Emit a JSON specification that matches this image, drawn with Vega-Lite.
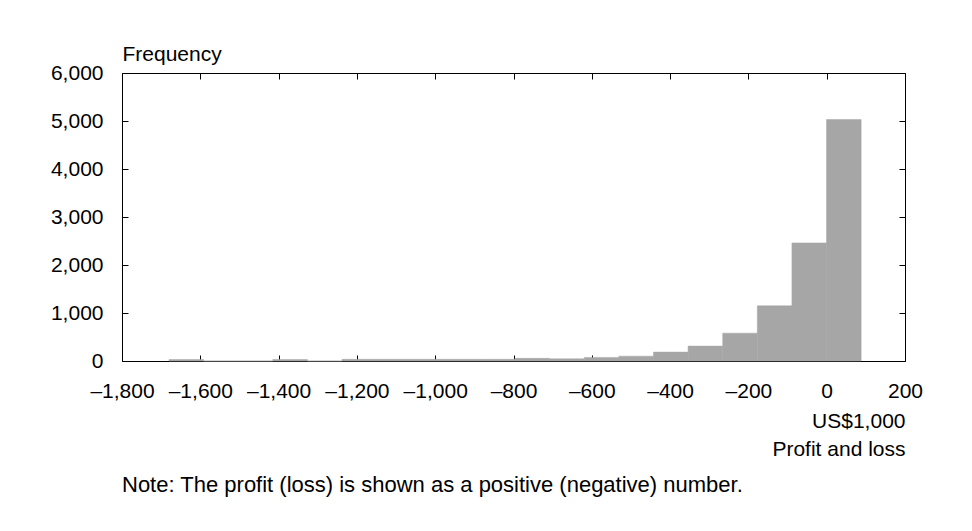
{
  "$schema": "https://vega.github.io/schema/vega-lite/v6.json",
  "width": 783,
  "height": 288,
  "autosize": {"type": "none"},
  "padding": {"left": 122, "top": 73, "right": 67, "bottom": 170},
  "background": "#ffffff",
  "title": {
    "text": "Note: The profit (loss) is shown as a positive (negative) number.",
    "orient": "bottom",
    "anchor": "start",
    "frame": "group",
    "offset": 16,
    "font": "Liberation Sans",
    "fontSize": 22,
    "fontWeight": "normal",
    "color": "#000000"
  },
  "data": {
    "values": [
      {"bin_start": -1680.0, "bin_end": -1591.6, "count": 30},
      {"bin_start": -1591.6, "bin_end": -1503.2, "count": 0},
      {"bin_start": -1503.2, "bin_end": -1414.8, "count": 0},
      {"bin_start": -1414.8, "bin_end": -1326.4, "count": 30},
      {"bin_start": -1326.4, "bin_end": -1238.0, "count": 0},
      {"bin_start": -1238.0, "bin_end": -1149.6, "count": 35},
      {"bin_start": -1149.6, "bin_end": -1061.2, "count": 35},
      {"bin_start": -1061.2, "bin_end": -972.8, "count": 35},
      {"bin_start": -972.8, "bin_end": -884.4, "count": 35},
      {"bin_start": -884.4, "bin_end": -796.0, "count": 35},
      {"bin_start": -796.0, "bin_end": -707.6, "count": 55},
      {"bin_start": -707.6, "bin_end": -619.2, "count": 45},
      {"bin_start": -619.2, "bin_end": -530.8, "count": 75},
      {"bin_start": -530.8, "bin_end": -442.4, "count": 100},
      {"bin_start": -442.4, "bin_end": -354.0, "count": 185},
      {"bin_start": -354.0, "bin_end": -265.6, "count": 310},
      {"bin_start": -265.6, "bin_end": -177.2, "count": 580},
      {"bin_start": -177.2, "bin_end": -88.8, "count": 1150},
      {"bin_start": -88.8, "bin_end": -0.4, "count": 2460},
      {"bin_start": -0.4, "bin_end": 88.0, "count": 5030}
    ]
  },
  "layer": [
    {
      "mark": {"type": "bar", "color": "#a6a6a6", "stroke": "#a6a6a6", "strokeWidth": 0.5},
      "encoding": {
        "x": {
          "field": "bin_start",
          "type": "quantitative",
          "scale": {"domain": [-1800, 200], "nice": false, "zero": false},
          "axis": {
            "orient": "bottom",
            "values": [-1800, -1600, -1400, -1200, -1000, -800, -600, -400, -200, 0, 200],
            "labelExpr": "datum.value < 0 ? '\u2013' + format(-datum.value, ',') : format(datum.value, ',')",
            "labelOverlap": false,
            "labelFlush": false,
            "title": ["US$1,000", "Profit and loss"],
            "titleAnchor": "end",
            "titleAlign": "right",
            "titleX": 783,
            "titleY": 66,
            "titleBaseline": "alphabetic",
            "titleLineHeight": 28,
            "grid": false,
            "domain": false,
            "tickSize": -6,
            "labelPadding": 25
          }
        },
        "x2": {"field": "bin_end"},
        "y": {
          "field": "count",
          "type": "quantitative",
          "scale": {"domain": [0, 6000], "nice": false},
          "axis": {
            "orient": "left",
            "values": [0, 1000, 2000, 3000, 4000, 5000, 6000],
            "labelExpr": "format(datum.value, ',')",
            "labelOverlap": false,
            "labelFlush": false,
            "title": "Frequency",
            "titleAngle": 0,
            "titleAlign": "left",
            "titleAnchor": "start",
            "titleX": 0,
            "titleY": -13,
            "titleBaseline": "alphabetic",
            "grid": false,
            "domain": false,
            "tickSize": -6,
            "labelPadding": 25
          }
        },
        "y2": {"datum": 0}
      }
    },
    {
      "mark": {"type": "bar", "opacity": 0},
      "encoding": {
        "x": {
          "field": "bin_start",
          "type": "quantitative",
          "axis": {
            "orient": "top",
            "values": [-1800, -1600, -1400, -1200, -1000, -800, -600, -400, -200, 0, 200],
            "labels": false,
            "title": null,
            "grid": false,
            "domain": false,
            "tickSize": -6
          }
        },
        "x2": {"field": "bin_end"},
        "y": {
          "field": "count",
          "type": "quantitative",
          "axis": {
            "orient": "right",
            "values": [0, 1000, 2000, 3000, 4000, 5000, 6000],
            "labels": false,
            "title": null,
            "grid": false,
            "domain": false,
            "tickSize": -6
          }
        },
        "y2": {"datum": 0}
      }
    }
  ],
  "resolve": {"scale": {"x": "shared", "y": "shared"}, "axis": {"x": "independent", "y": "independent"}},
  "config": {
    "view": {"stroke": "#000000", "strokeWidth": 1},
    "font": "Liberation Sans",
    "axis": {
      "labelFont": "Liberation Sans",
      "labelFontSize": 21,
      "labelColor": "#000000",
      "titleFont": "Liberation Sans",
      "titleFontSize": 21,
      "titleFontWeight": "normal",
      "titleColor": "#000000",
      "tickColor": "#000000",
      "tickWidth": 1
    }
  }
}
